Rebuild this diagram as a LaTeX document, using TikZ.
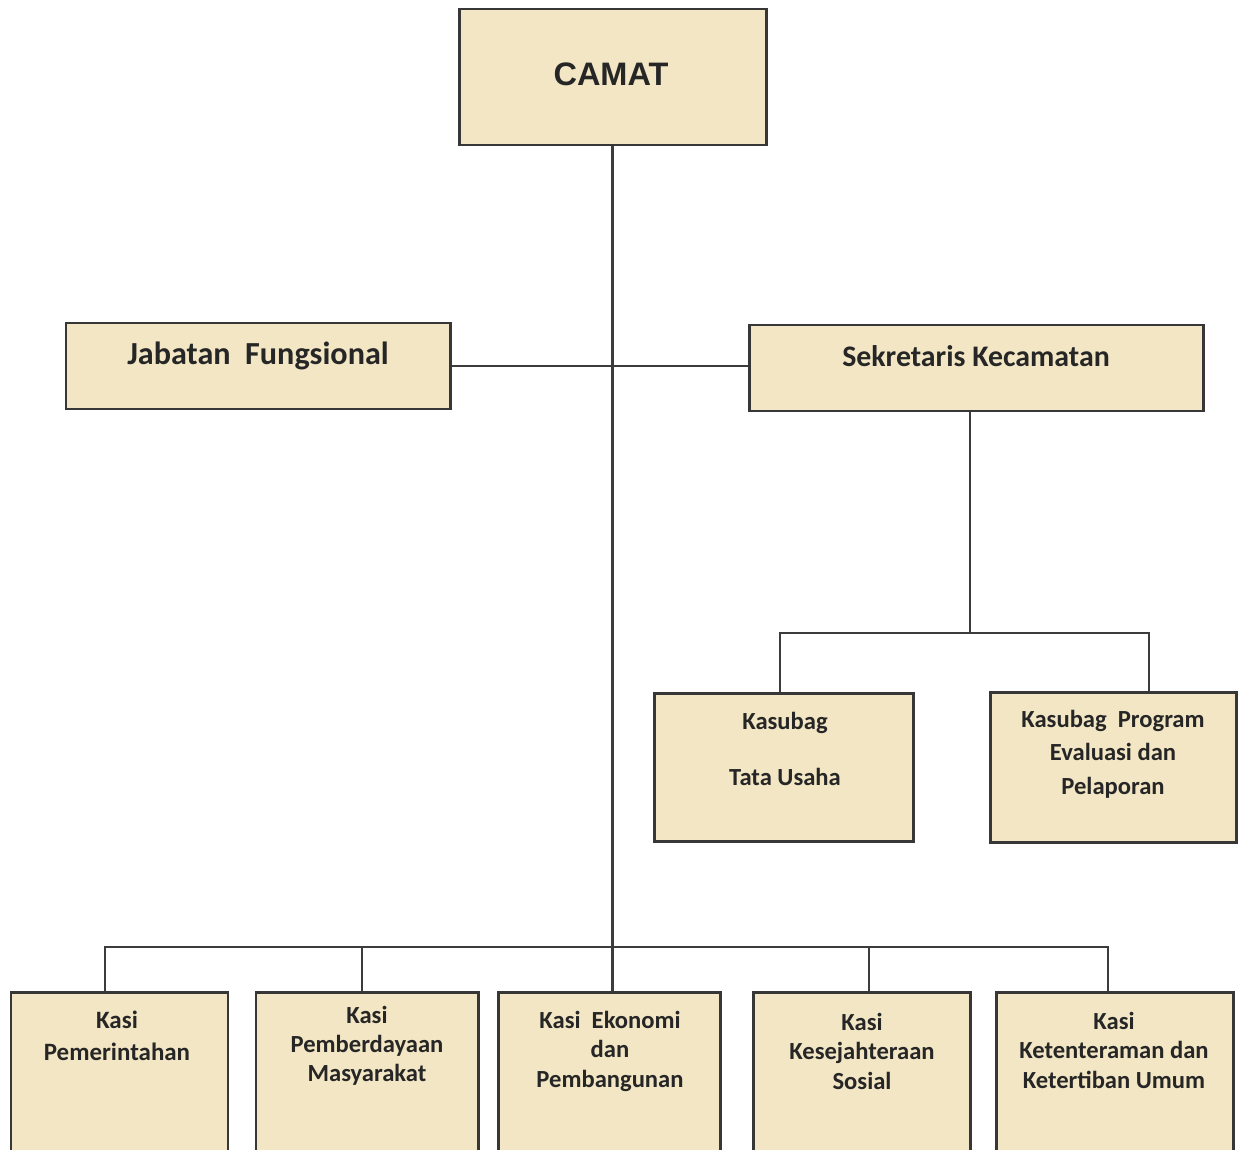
\documentclass[tikz,border=0pt]{standalone}
\usepackage{fontspec}
\setmainfont{Carlito}
\newfontfamily\arialf{Liberation Sans}
\definecolor{boxfill}{RGB}{242,230,196}
\definecolor{boxline}{RGB}{55,55,55}
\definecolor{conn}{RGB}{60,60,60}
\begin{document}
\begin{tikzpicture}[x=0.02cm,y=-0.02cm,
  orgbox/.style={draw=boxline,fill=boxfill,line width=1.7pt,inner sep=0pt,rectangle},
  lbl/.style={align=center,inner sep=0pt,text=black!85,font=\bfseries},
  link/.style={draw=conn,line width=1.2pt}]
\useasboundingbox[fill=white] (0,0) rectangle (1239,1149);
% boxes
\node[orgbox,minimum width=307*0.02cm,minimum height=136*0.02cm] (camat) at (612.5,77) {};
\node[lbl,font=\arialf\bfseries\fontsize{18.5}{22}\selectfont] (tcamat) at (611,74) {CAMAT};
\node[orgbox,minimum width=384*0.02cm,minimum height=86*0.02cm] (jab) at (258,366) {};
\node[lbl,font=\bfseries\fontsize{18.3}{22}\selectfont] (tjab) at (258,356) {Jabatan\ \ Fungsional};
\node[orgbox,minimum width=454*0.02cm,minimum height=86*0.02cm] (sek) at (976,368) {};
\node[lbl,font=\bfseries\fontsize{17}{20}\selectfont] (tsek) at (976,356) {Sekretaris Kecamatan};
\node[orgbox,minimum width=259*0.02cm,minimum height=148*0.02cm] (ktu) at (783.5,767) {};
\node[lbl,font=\bfseries\fontsize{14}{31.5}\selectfont] (tktu) at (785,749) {Kasubag\\Tata Usaha};
\node[orgbox,minimum width=246*0.02cm,minimum height=150*0.02cm] (kpe) at (1113,767) {};
\node[lbl,font=\bfseries\fontsize{14}{19}\selectfont] (tkpe) at (1113,754) {Kasubag\ \ Program\\Evaluasi dan\\Pelaporan};
% bottom boxes
\node[orgbox,minimum width=217*0.02cm,minimum height=168*0.02cm] (b1) at (119.5,1076) {};
\node[lbl,font=\bfseries\fontsize{14.2}{18}\selectfont] (tb1) at (117,1036) {Kasi\\Pemerintahan};
\node[orgbox,minimum width=222*0.02cm,minimum height=168*0.02cm] (b2) at (367,1076) {};
\node[lbl,font=\bfseries\fontsize{14}{16.5}\selectfont] (tb2) at (367,1046) {Kasi\\Pemberdayaan\\Masyarakat};
\node[orgbox,minimum width=222*0.02cm,minimum height=168*0.02cm] (b3) at (609,1076) {};
\node[lbl,font=\bfseries\fontsize{14}{16.8}\selectfont] (tb3) at (610,1051) {Kasi\ \ Ekonomi\\dan\\Pembangunan};
\node[orgbox,minimum width=217*0.02cm,minimum height=168*0.02cm] (b4) at (861.5,1076) {};
\node[lbl,font=\bfseries\fontsize{14}{16.8}\selectfont] (tb4) at (862,1051) {Kasi\\Kesejahteraan\\Sosial};
\node[orgbox,minimum width=237*0.02cm,minimum height=168*0.02cm] (b5) at (1114.5,1076) {};
\node[lbl,font=\bfseries\fontsize{14}{16.8}\selectfont] (tb5) at (1114,1050) {Kasi\\Ketenteraman dan\\Ketertiban Umum};
% connector coordinates
\coordinate (kL) at (780,633);
\coordinate (kR) at (1149,633);
\coordinate (d1) at (105,947);
\coordinate (d2) at (362,947);
\coordinate (d4) at (869,947);
\coordinate (d5) at (1108,947);
% connectors
\draw[link] (camat.south) -- (camat.south |- b3.north);
\draw[link] (jab.east) -- (jab.east -| sek.west);
\draw[link] (sek.south -| 970,0) -- (970,633);
\draw[link] (kL |- ktu.north) -- (kL) -- (kR) -- (kR |- kpe.north);
\draw[link] (d1 |- b1.north) -- (d1) -- (d5) -- (d5 |- b5.north);
\draw[link] (d2) -- (d2 |- b2.north);
\draw[link] (d4) -- (d4 |- b4.north);
\end{tikzpicture}
\end{document}
